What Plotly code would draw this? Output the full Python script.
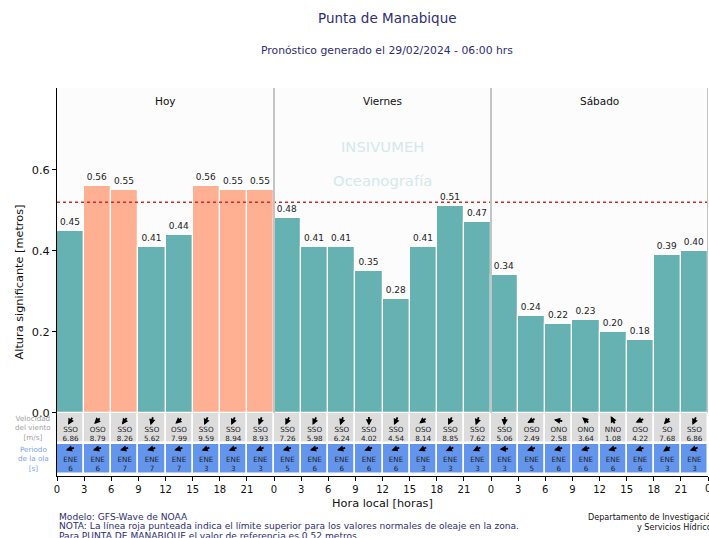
import math
import plotly.graph_objects as go

# ---------------- data ----------------
DAYS = ["Hoy", "Viernes", "Sábado"]
HOURS = [0, 3, 6, 9, 12, 15, 18, 21]
wave_height = [0.45, 0.56, 0.55, 0.41, 0.44, 0.56, 0.55, 0.55,
               0.48, 0.41, 0.41, 0.35, 0.28, 0.41, 0.51, 0.47,
               0.34, 0.24, 0.22, 0.23, 0.20, 0.18, 0.39, 0.40]
wind_dir = ["SSO", "OSO", "SSO", "SSO", "OSO", "SSO", "SSO", "SSO",
            "SSO", "SSO", "SSO", "SSO", "SSO", "OSO", "SSO", "SSO",
            "SSO", "OSO", "ONO", "ONO", "NNO", "OSO", "SO", "SSO"]
wind_speed = [6.86, 8.79, 8.26, 5.62, 7.99, 9.59, 8.94, 8.93,
              7.26, 5.98, 6.24, 4.02, 4.54, 8.14, 8.85, 7.62,
              5.06, 2.49, 2.58, 3.64, 1.08, 4.22, 7.68, 6.86]
wind_bearing = [210, 225, 215, 195, 228, 205, 205, 200,
                205, 205, 200, 180, 205, 232, 205, 200,
                185, 240, 280, 310, 332, 245, 222, 205]
wave_dir = ["ENE"] * 24
wave_period = [6, 6, 7, 7, 7, 3, 3, 3,
               5, 6, 6, 6, 6, 3, 3, 3,
               3, 5, 6, 6, 6, 6, 3, 3]
wave_bearing = [255, 255, 255, 255, 255, 250, 250, 250,
                255, 255, 255, 250, 250, 245, 245, 245,
                265, 252, 255, 255, 255, 252, 238, 250]
REF = 0.52

TITLE = "Punta de Manabique"
SUBTITLE = "Pronóstico generado el 29/02/2024 - 06:00 hrs"
FOOT_LEFT = ["Modelo: GFS-Wave de NOAA",
             "NOTA: La línea roja punteada indica el límite superior para los valores normales de oleaje en la zona.",
             "Para PUNTA DE MANABIQUE el valor de referencia es 0.52 metros."]
FOOT_RIGHT = ["Departamento de Investigación", "y Servicios Hídricos"]

# ---------------- style ----------------
FONT = "DejaVu Sans"
TEAL = "#66b2b2"
SALMON = "#ffb093"
GRAY = "#dcdcdc"
BLUE = "#6495ed"
NAVY = "#2e2e70"
Y_MIN, Y_MAX = -0.156, 0.802
W, H = 709, 538
ML, MR, MT, MB = 57, 1, 88, 62
N = len(wave_height)
x_center = [1.5 + 3 * i for i in range(N)]

ROW_WIND = (-0.074, 0.0)
ROW_WAVE = (-0.152, -0.077)

fig = go.Figure()

# strip backgrounds
fig.add_trace(go.Bar(x=x_center, y=[ROW_WIND[1] - ROW_WIND[0]] * N, base=ROW_WIND[0],
                     width=3, marker=dict(color=GRAY, line=dict(color="white", width=1.5)),
                     hoverinfo="skip", showlegend=False))
fig.add_trace(go.Bar(x=x_center, y=[ROW_WAVE[1] - ROW_WAVE[0]] * N, base=ROW_WAVE[0],
                     width=3, marker=dict(color=BLUE, line=dict(color="white", width=1.5)),
                     hoverinfo="skip", showlegend=False))

# main bars
colors = [SALMON if v > REF else TEAL for v in wave_height]
fig.add_trace(go.Bar(x=x_center, y=wave_height, width=3,
                     marker=dict(color=colors, line=dict(color="white", width=1.2)),
                     text=[f"{v:.2f}" for v in wave_height], textposition="outside",
                     textfont=dict(family=FONT, size=9, color="#222222"),
                     cliponaxis=False, showlegend=False))

# strip texts
def txt(ys, labels):
    fig.add_trace(go.Scatter(x=x_center, y=[ys] * N, mode="text", text=labels,
                             textfont=dict(family=FONT, size=7.2, color="#222222"),
                             hoverinfo="skip", showlegend=False, cliponaxis=False))

txt(-0.043, wind_dir)
txt(-0.066, [f"{v:.2f}" for v in wind_speed])
txt(-0.117, wave_dir)
txt(-0.139, [str(v) for v in wave_period])

# arrows
L = 10
def arrows(ys, bearings):
    for xc, b in zip(x_center, bearings):
        s, c = math.sin(math.radians(b)), math.cos(math.radians(b))
        fig.add_annotation(x=xc, y=ys, xref="x", yref="y", text="", showarrow=True,
                           ax=-L * s, ay=L * c, axref="pixel", ayref="pixel",
                           xshift=L / 2 * s, yshift=L / 2 * c,
                           arrowhead=2, arrowsize=0.7, arrowwidth=1.8, arrowcolor="black",
                           standoff=0, startstandoff=0)

arrows(-0.019, wind_bearing)
arrows(-0.089, wave_bearing)

# reference line
fig.add_hline(y=REF, line=dict(color="#cc2a2a", width=1.5, dash="dot"))

# day separators and labels
for d, name in enumerate(DAYS):
    fig.add_shape(type="line", x0=24 * (d + 1), x1=24 * (d + 1), y0=0, y1=Y_MAX,
                  xref="x", yref="y", line=dict(color="#c4c4c4", width=2))
    fig.add_annotation(x=24 * d + 12, y=0.770, xref="x", yref="y", text=name, showarrow=False,
                       font=dict(family=FONT, size=10.5, color="#111111"))

# watermark
fig.add_annotation(x=36, y=0.657, text="INSIVUMEH", showarrow=False,
                   font=dict(family=FONT, size=14.8, color="#d3e9e9"))
fig.add_annotation(x=36, y=0.573, text="Oceanografía", showarrow=False,
                   font=dict(family=FONT, size=14.8, color="#d3e9e9"))

# strip side labels
fig.add_annotation(x=-24 / (W - ML - MR), y=-0.037, xref="paper", yref="y",
                   text="Velocidad<br>del viento<br>[m/s]", showarrow=False, align="center",
                   xanchor="center", yanchor="middle",
                   font=dict(family=FONT, size=7.2, color="#a0a0a0"))
fig.add_annotation(x=-24 / (W - ML - MR), y=-0.114, xref="paper", yref="y",
                   text="Periodo<br>de la ola<br>[s]", showarrow=False, align="center",
                   xanchor="center", yanchor="middle",
                   font=dict(family=FONT, size=7.2, color="#7ba3f0"))

# titles
def paper_x(px):
    return (px - ML) / (W - ML - MR)

def paper_y(py):
    return (H - MB - py) / (H - MT - MB)

fig.add_annotation(x=paper_x(387), y=paper_y(18), xref="paper", yref="paper", text=TITLE,
                   showarrow=False, xanchor="center", yanchor="middle",
                   font=dict(family=FONT, size=13.5, color=NAVY))
fig.add_annotation(x=paper_x(387), y=paper_y(51), xref="paper", yref="paper", text=SUBTITLE,
                   showarrow=False, xanchor="center", yanchor="middle",
                   font=dict(family=FONT, size=10.8, color=NAVY))

# footer
for i, line in enumerate(FOOT_LEFT):
    fig.add_annotation(x=paper_x(57), y=paper_y(517 + 9.3 * i), xref="paper", yref="paper",
                       text=line, showarrow=False, xanchor="left", yanchor="middle",
                       font=dict(family=FONT, size=9.1, color=NAVY))
for i, line in enumerate(FOOT_RIGHT):
    fig.add_annotation(x=paper_x(718), y=paper_y(517 + 10 * i), xref="paper", yref="paper",
                       text=line, showarrow=False, xanchor="right", yanchor="middle",
                       font=dict(family=FONT, size=8.1, color="#111111"))

tickvals = list(range(0, 73, 3))
ticktext = [str(v % 24) for v in tickvals]

# last tick label (Plotly drops labels touching the edge)
fig.add_annotation(x=72, y=0, xref="x", yref="paper", yanchor="top", yshift=-5,
                   text=ticktext[-1], showarrow=False,
                   font=dict(family=FONT, size=10, color="#111111"))

fig.update_layout(
    width=W, height=H, margin=dict(l=ML, r=MR, t=MT, b=MB, autoexpand=False),
    paper_bgcolor="white", plot_bgcolor="#fcfcfc",
    barmode="overlay", bargap=0,
    font=dict(family=FONT, color="#111111"),
    xaxis=dict(range=[0, 72], tickvals=tickvals, ticktext=ticktext, showgrid=False,
               zeroline=False, showline=True, linecolor="black", linewidth=1,
               ticks="outside", ticklen=4, tickcolor="black", automargin=False,
               tickfont=dict(family=FONT, size=10, color="#111111"),
               title=dict(text="Hora local [horas]", font=dict(family=FONT, size=11.3), standoff=5)),
    yaxis=dict(range=[Y_MIN, Y_MAX], tickvals=[0, 0.2, 0.4, 0.6],
               ticktext=["0.0", "0.2", "0.4", "0.6"], showgrid=False, zeroline=False,
               showline=True, linecolor="black", linewidth=1, ticks="outside", ticklen=4,
               tickcolor="black", automargin=False,
               tickfont=dict(family=FONT, size=11.3, color="#111111"),
               title=dict(text="Altura significante [metros]", font=dict(family=FONT, size=11.3),
                          standoff=5)),
)

fig.write_html("out.html", post_script="document.body.style.margin='0';",
               config={"displayModeBar": False})
